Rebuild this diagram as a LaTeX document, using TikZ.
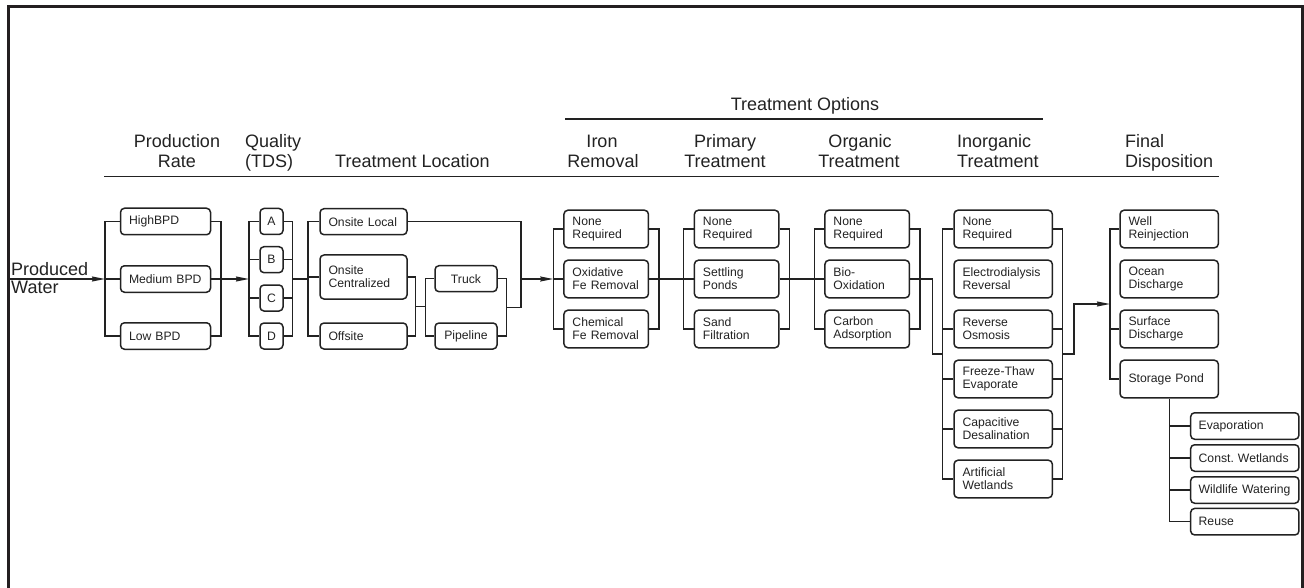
\documentclass[tikz,border=0pt]{standalone}
\usepackage{fontspec}
\setmainfont{Liberation Sans}
\usetikzlibrary{arrows.meta,calc}
\definecolor{ink}{HTML}{222222}
\definecolor{framec}{HTML}{231F20}
\begin{document}
\begin{tikzpicture}[x=1pt,y=-1pt,
  every node/.style={text=ink},
  box/.style={draw=ink, line width=1.5pt, rounded corners=4pt, inner xsep=8.5pt,
    inner ysep=0pt, font=\fontsize{12.2}{12.8}\selectfont, align=left},
  cbox/.style={box, align=center, inner xsep=2pt},
  prbox/.style={box, text width=73pt, minimum height=26.5pt},
  qbox/.style={cbox, text width=19pt, minimum height=26pt},
  locbox/.style={box, text width=70pt, minimum height=26pt},
  tpbox/.style={cbox, text width=58pt, minimum height=26pt},
  trbox/.style={box, text width=67.5pt, minimum height=37.6pt},
  inbox/.style={box, text width=81.3pt, minimum height=37.6pt},
  spbox/.style={box, inner xsep=8pt, text width=92.3pt, minimum height=26.5pt},
  wire/.style={draw=ink, line width=1.3pt},
  arr/.style={wire, -{Stealth[length=13pt,width=5pt,inset=1pt]}},
  hdr/.style={font=\fontsize{18}{20}\selectfont, inner sep=0pt},
  rule/.style={draw=ink, line width=1.6pt},
]
\useasboundingbox (0,0) rectangle (1304,588);

% page frame, open at the bottom
\draw[framec, line width=3pt] (8.5,588) -- (8.5,6.5) -- (1302.5,6.5) -- (1302.5,588);

% ---------- headings ----------
\node[hdr, anchor=base] (hTO) at (805,110.5) {Treatment Options};
\draw[rule] (565,119) -- (1043,119);

\node[hdr, anchor=base] (hPR1) at (177,147.5) {Production};
\node[hdr, anchor=base] (hPR2) at (177,167.5) {Rate};
\node[hdr, anchor=base west] (hQ1) at (245,147.5) {Quality};
\node[hdr, anchor=base west] (hQ2) at (245,167.5) {(TDS)};
\node[hdr, anchor=base west] (hTL) at (335,167.5) {Treatment Location};
\node[hdr, anchor=base] (hIR1) at (602,147.5) {Iron};
\node[hdr, anchor=base] (hIR2) at (603,167.5) {Removal};
\node[hdr, anchor=base] (hPT1) at (725,147.5) {Primary};
\node[hdr, anchor=base] (hPT2) at (725,167.5) {Treatment};
\node[hdr, anchor=base] (hOT1) at (860,147.5) {Organic};
\node[hdr, anchor=base] (hOT2) at (859,167.5) {Treatment};
\node[hdr, anchor=base west] (hIT1) at (957,147.5) {Inorganic};
\node[hdr, anchor=base west] (hIT2) at (957,167.5) {Treatment};
\node[hdr, anchor=base west] (hFD1) at (1125,147.5) {Final};
\node[hdr, anchor=base west] (hFD2) at (1125,167.5) {Disposition};
\draw[rule] (104,176.5) -- (1219,176.5);

\node[hdr, anchor=base west] (pw1) at (11,275) {Produced};
\node[hdr, anchor=base west] (pw2) at (11,294) {Water};

% ---------- bus positions ----------
\coordinate (mainflow) at (0,279);
\coordinate (src) at (10,279);
\coordinate (prl) at (105,0);   \coordinate (prr) at (221,0);
\coordinate (ql) at (249,0);    \coordinate (qr) at (292.5,0);
\coordinate (ll) at (308,0);    \coordinate (lr) at (415.7,0);
\coordinate (tpl) at (425.7,0); \coordinate (tpr) at (506.7,0);
\coordinate (coll) at (521,0);
\coordinate (fel) at (553.3,0); \coordinate (fer) at (659,0);
\coordinate (ptl) at (683.3,0); \coordinate (ptr) at (789.3,0);
\coordinate (orl) at (814.3,0); \coordinate (orr) at (920,0);
\coordinate (jog1) at (932.7,0);
\coordinate (inl) at (942.7,0); \coordinate (inr) at (1062.7,0);
\coordinate (jog2) at (1074,0);
\coordinate (fdl) at (1110,0);
\coordinate (drop) at (0,354);
\coordinate (feed) at (0,304);

% ---------- production rate ----------
\node[prbox] (hi)  at (165.5,221.5) {HighBPD};
\node[prbox] (med) at (165.5,279) {Medium~BPD};
\node[prbox] (lo)  at (165.5,336) {Low BPD};

% ---------- quality ----------
\node[qbox] (qa) at (271.5,221.5) {A};
\node[qbox] (qb) at (271.5,259.7) {B};
\node[qbox] (qc) at (271.5,298) {C};
\node[qbox] (qd) at (271.5,336) {D};

% ---------- treatment location ----------
\node[locbox] (loc1) at (363.5,221.7) {Onsite Local};
\node[locbox, minimum height=44pt] (loc2) at (363.5,277) {Onsite\\Centralized};
\node[locbox] (loc3) at (363.5,336) {Offsite};
\node[tpbox] (truck) at (466,278.7) {Truck};
\node[tpbox] (pipe)  at (466,336) {Pipeline};

% ---------- iron removal ----------
\node[trbox] (fe1) at (606.2,229) {None\\Required};
\node[trbox] (fe2) at (606.2,279) {Oxidative\\Fe~Removal};
\node[trbox] (fe3) at (606.2,329) {Chemical\\Fe~Removal};

% ---------- primary treatment ----------
\node[trbox] (pt1) at (736.7,229) {None\\Required};
\node[trbox] (pt2) at (736.7,279) {Settling\\Ponds};
\node[trbox] (pt3) at (736.7,329) {Sand\\Filtration};

% ---------- organic treatment ----------
\node[trbox] (ot1) at (867.2,229) {None\\Required};
\node[trbox] (ot2) at (867.2,279) {Bio-\\Oxidation};
\node[trbox] (ot3) at (867.2,329) {Carbon\\Adsorption};

% ---------- inorganic treatment ----------
\node[inbox] (it1) at (1003.2,229) {None\\Required};
\node[inbox] (it2) at (1003.2,279) {Electrodialysis\\Reversal};
\node[inbox] (it3) at (1003.2,329) {Reverse\\Osmosis};
\node[inbox] (it4) at (1003.2,379) {Freeze-Thaw\\Evaporate};
\node[inbox] (it5) at (1003.2,429) {Capacitive\\Desalination};
\node[inbox] (it6) at (1003.2,479) {Artificial\\Wetlands};

% ---------- final disposition ----------
\node[inbox] (fd1) at (1169.2,229) {Well\\Reinjection};
\node[inbox] (fd2) at (1169.2,279) {Ocean\\Discharge};
\node[inbox] (fd3) at (1169.2,329) {Surface\\Discharge};
\node[inbox] (fd4) at (1169.2,379) {Storage~Pond};

\node[spbox] (sp1) at (1244.8,426) {Evaporation};
\node[spbox] (sp2) at (1244.8,458) {Const.~Wetlands};
\node[spbox] (sp3) at (1244.8,490) {Wildlife~Watering};
\node[spbox] (sp4) at (1244.8,521.7) {Reuse};

% ---------- connectors ----------
\draw[arr] (src) -- (mainflow -| prl);
\draw[wire] (hi.west) -| (lo.west -| prl) -- (lo.west);
\draw[wire] (med.west) -- (med.west -| prl);
\draw[wire] (hi.east) -| (lo.east -| prr) -- (lo.east);
\draw[arr] (med.east) -- (mainflow -| ql);

\draw[wire] (qa.west) -| (qd.west -| ql) -- (qd.west);
\draw[wire] (qb.west) -- (qb.west -| ql);
\draw[wire] (qc.west) -- (qc.west -| ql);
\draw[wire] (qa.east) -| (qd.east -| qr) -- (qd.east);
\draw[wire] (qb.east) -- (qb.east -| qr);
\draw[wire] (qc.east) -- (qc.east -| qr);
\draw[wire] (mainflow -| qr) -- (mainflow -| ll);

\draw[wire] (loc1.west) -| (loc3.west -| ll) -- (loc3.west);
\draw[wire] (loc2.west) -- (loc2.west -| ll);
\draw[wire] (loc2.east) -| (loc3.east -| lr) -- (loc3.east);
\coordinate (lmid) at ($(loc2.east -| lr)!0.5!(loc3.east -| lr)$);
\draw[wire] (lmid) -- (lmid -| tpl);
\draw[wire] (truck.west) -| (pipe.west -| tpl) -- (pipe.west);
\draw[wire] (truck.east) -| (pipe.east -| tpr) -- (pipe.east);
\coordinate (tmid) at ($(truck.east -| tpr)!0.5!(pipe.east -| tpr)$);
\draw[wire] (loc1.east) -| (tmid -| coll) -- (tmid);
\draw[arr] (mainflow -| coll) -- (mainflow -| fel);

\draw[wire] (fe1.west) -| (fe3.west -| fel) -- (fe3.west);
\draw[wire] (fe2.west) -- (fe2.west -| fel);
\draw[wire] (fe1.east) -| (fe3.east -| fer) -- (fe3.east);
\draw[wire] (fe2.east) -- (pt2.west);

\draw[wire] (pt1.west) -| (pt3.west -| ptl) -- (pt3.west);
\draw[wire] (pt1.east) -| (pt3.east -| ptr) -- (pt3.east);
\draw[wire] (pt2.east) -- (ot2.west);

\draw[wire] (ot1.west) -| (ot3.west -| orl) -- (ot3.west);
\draw[wire] (ot1.east) -| (ot3.east -| orr) -- (ot3.east);
\draw[wire] (ot2.east) -| (drop -| jog1) -- (drop -| inl);

\draw[wire] (it1.west) -| (it6.west -| inl) -- (it6.west);
\draw[wire] (it3.west) -- (it3.west -| inl);
\draw[wire] (it4.west) -- (it4.west -| inl);
\draw[wire] (it5.west) -- (it5.west -| inl);
\draw[wire] (it1.east) -| (it6.east -| inr) -- (it6.east);
\draw[wire] (it3.east) -- (it3.east -| inr);
\draw[wire] (it4.east) -- (it4.east -| inr);
\draw[wire] (it5.east) -- (it5.east -| inr);
\draw[arr] (drop -| inr) -| (feed -| jog2) -- (feed -| fdl);

\draw[wire] (fd1.west) -| (fd4.west -| fdl) -- (fd4.west);
\draw[wire] (fd3.west) -- (fd3.west -| fdl);

\draw[wire] (fd4.south) |- (sp4.west);
\draw[wire] (sp1.west) -- (sp1.west -| fd4.south);
\draw[wire] (sp2.west) -- (sp2.west -| fd4.south);
\draw[wire] (sp3.west) -- (sp3.west -| fd4.south);
\end{tikzpicture}
\end{document}
